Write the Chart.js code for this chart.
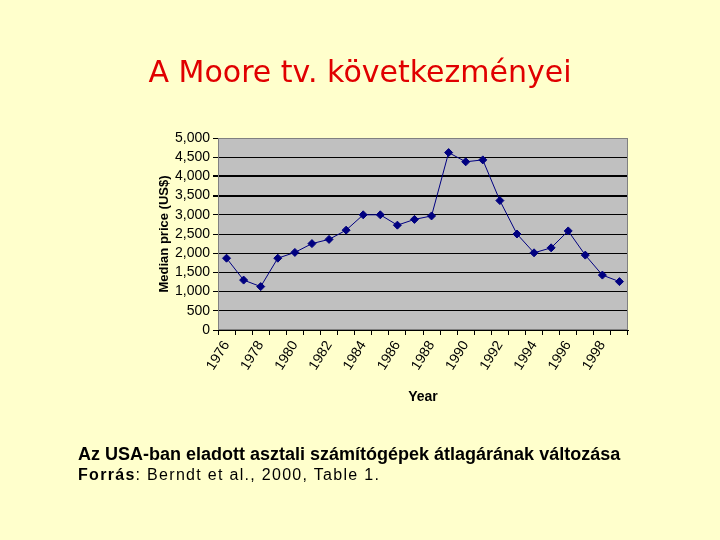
<!DOCTYPE html>
<html>
<head>
<meta charset="utf-8">
<script src="https://cdn.jsdelivr.net/npm/chart.js@4"></script>
<style>
  body { margin: 0; background: #ffffcc; }
  #wrap { position: relative; width: 720px; height: 540px; overflow: hidden; }
  #chart { position: absolute; left: 0; top: 0; }
  .title { position: absolute; left: 0; width: 720px; top: 54px; text-align: center;
    font-family: "DejaVu Sans", sans-serif; font-size: 30px; color: #e00000; }
  .cap1 { position: absolute; left: 78px; top: 444px; font-family: "Liberation Sans", Arial, sans-serif;
    font-weight: bold; font-size: 18px; color: #000; }
  .cap2 { position: absolute; left: 78px; top: 466px; font-family: "Liberation Sans", Arial, sans-serif;
    font-size: 16px; letter-spacing: 1.3px; color: #000; }
</style>
</head>
<body>
<div id="wrap">
  <canvas id="chart" width="720" height="540"></canvas>
  <div class="title">A Moore tv. következményei</div>
  <div class="cap1">Az USA-ban eladott asztali számítógépek átlagárának változása</div>
  <div class="cap2"><b>Forrás</b>: Berndt et al., 2000, Table 1.</div>
</div>
<script>
const years = ["1976", "1977", "1978", "1979", "1980", "1981", "1982", "1983", "1984", "1985", "1986", "1987",
  "1988", "1989", "1990", "1991", "1992", "1993", "1994", "1995", "1996", "1997", "1998", "1999"];
const medianPrice = [1870, 1300, 1130, 1870, 2020, 2250, 2360, 2600, 3000, 3000, 2730, 2880,
  2970, 4620, 4380, 4430, 3370, 2500, 2010, 2140, 2580, 1950, 1430, 1260];
const shownYears = ["1976", "1978", "1980", "1982", "1984", "1986", "1988", "1990", "1992", "1994", "1996", "1998"];

const tickFont = { family: "Liberation Sans, Arial, sans-serif", size: 14 };

// grey plot area with a border
const plotBg = {
  id: "plotBg",
  beforeDraw(chart) {
    const { ctx, chartArea: a } = chart;
    ctx.save();
    ctx.fillStyle = "#c0c0c0";
    ctx.fillRect(a.left, a.top, a.width, a.height);
    ctx.restore();
  },
  afterDatasetsDraw(chart) {
    const { ctx, chartArea: a } = chart;
    ctx.save();
    ctx.strokeStyle = "#808080";
    ctx.lineWidth = 1;
    ctx.strokeRect(a.left + 0.5, a.top + 0.5, a.width - 1, a.height - 1);
    ctx.restore();
  }
};

new Chart(document.getElementById("chart"), {
  type: "line",
  data: {
    labels: years,
    datasets: [{
      data: medianPrice,
      borderColor: "#000080",
      backgroundColor: "#000080",
      borderWidth: 1,
      pointStyle: "rectRot",
      pointRadius: 4,
      pointHoverRadius: 4,
      fill: false,
      tension: 0
    }]
  },
  options: {
    responsive: false,
    animation: false,
    layout: { padding: { left: 155, top: 138, right: 92, bottom: 130 } },
    plugins: { legend: { display: false }, tooltip: { enabled: false } },
    scales: {
      x: {
        offset: true,
        afterFit: s => { s.height = 80; },
        grid: { offset: true, drawOnChartArea: false, drawTicks: true, tickLength: 5, color: "#000" },
        border: { display: true, color: "#000" },
        ticks: {
          autoSkip: false,
          maxRotation: 58,
          minRotation: 58,
          color: "#000",
          font: { family: "Liberation Sans, Arial, sans-serif", size: 14 },
          callback: function (v, i) {
            const y = this.getLabelForValue(v);
            return shownYears.includes(y) ? y : "";
          }
        },
        title: { display: true, text: "Year", color: "#000",
          font: { family: "Liberation Sans, Arial, sans-serif", size: 14, weight: "bold" }, padding: { top: 4 } }
      },
      y: {
        min: 0,
        max: 5000,
        afterFit: s => { s.width = 63; },
        grid: {
          color: "#000",
          lineWidth: c => (c.tick && (c.tick.value === 3500 || c.tick.value === 4000)) ? 2 : 1,
          tickLength: 5
        },
        border: { display: true, color: "#000" },
        ticks: {
          autoSkip: false,
          stepSize: 500,
          color: "#000",
          font: tickFont,
          padding: 3,
          callback: v => v.toLocaleString("en-US")
        },
        title: { display: true, text: "Median price (US$)", color: "#000",
          font: { family: "Liberation Sans, Arial, sans-serif", size: 13, weight: "bold" }, padding: 2 }
      }
    }
  },
  plugins: [plotBg]
});
</script>
</body>
</html>
